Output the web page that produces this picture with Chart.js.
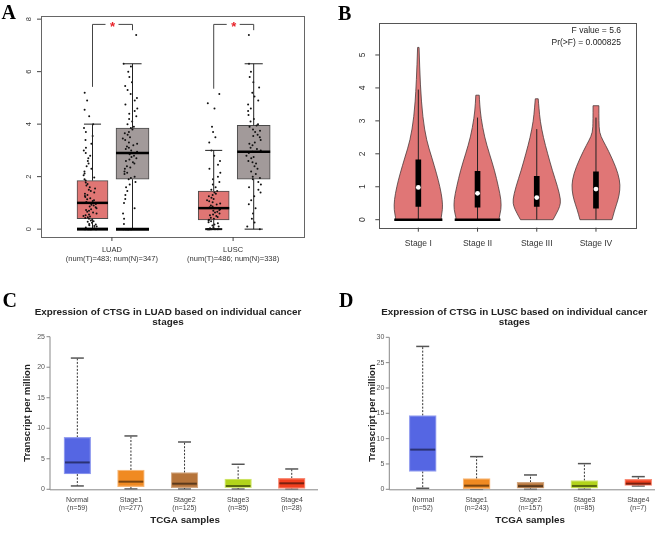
<!DOCTYPE html>
<html>
<head>
<meta charset="utf-8">
<script src="https://cdn.jsdelivr.net/npm/chart.js@4.4.0/dist/chart.umd.min.js"></script>
<style>
  body { margin: 0; background: #fff; }
  #wrap { position: relative; width: 669px; height: 534px; overflow: hidden; }
  canvas { position: absolute; }
</style>
</head>
<body>
<div id="wrap">
  <canvas id="chartA" width="330" height="270" style="left:0;top:0"></canvas>
  <canvas id="chartB" width="339" height="270" style="left:330px;top:0"></canvas>
  <canvas id="chartC" width="335" height="264" style="left:0;top:270px"></canvas>
  <canvas id="chartD" width="334" height="264" style="left:335px;top:270px"></canvas>
</div>
<script>
// ---- panel A : tumour vs normal ----
const aGroups = ['LUAD', 'LUSC'];
const aCounts = ['(num(T)=483; num(N)=347)', '(num(T)=486; num(N)=338)'];
const aTicks = [0, 2, 4, 6, 8];
// min, q1, median, q3, max
const aTumorStats = [[0, 0.4, 1.0, 1.85, 4.0], [0, 0.35, 0.8, 1.45, 3.0]];
const aNormalStats = [[0, 1.9, 2.9, 3.85, 6.3], [0, 1.9, 2.95, 3.95, 6.3]];
const aBracketLeft = [5.42, 5.35];
const aBracketTop = [7.8, 7.8];
const aBracketRight = [7.58, 7.58];
const luadTumorPts = [0,0,0,0,0,0,0,0,0,0,0.03,0.06,0.1,0.12,0.15,0.18,0.2,0.24,0.28,0.3,0.33,0.36,0.4,0.42,0.45,0.48,0.5,0.53,0.56,0.6,0.63,0.66,0.7,0.73,0.76,0.8,0.83,0.86,0.9,0.93,0.96,1.0,1.03,1.07,1.1,1.14,1.18,1.22,1.26,1.3,1.35,1.4,1.45,1.5,1.55,1.6,1.66,1.72,1.78,1.85,1.9,1.97,2.05,2.12,2.2,2.3,2.4,2.5,2.6,2.7,2.8,2.9,3.0,3.1,3.25,3.4,3.55,3.7,3.85,4.0,4.3,4.55,4.9,5.2];
const luadNormalPts = [0,0,0,0,0,0,0,0,0.2,0.4,0.6,0.8,1.0,1.15,1.3,1.45,1.6,1.7,1.8,1.9,1.95,2.0,2.1,2.15,2.2,2.3,2.35,2.4,2.5,2.55,2.6,2.65,2.7,2.75,2.8,2.85,2.9,2.95,3.0,3.05,3.1,3.15,3.2,3.25,3.3,3.4,3.45,3.5,3.6,3.65,3.7,3.8,3.85,3.9,4.0,4.1,4.2,4.3,4.4,4.5,4.6,4.75,4.9,5.0,5.15,5.3,5.45,5.6,5.8,6.0,6.2,6.3,7.4];
const luscTumorPts = [0,0,0,0,0,0,0,0,0,0,0.03,0.06,0.1,0.14,0.18,0.22,0.26,0.3,0.33,0.36,0.4,0.43,0.46,0.5,0.53,0.56,0.6,0.63,0.66,0.7,0.73,0.76,0.8,0.83,0.86,0.9,0.94,0.98,1.02,1.06,1.1,1.15,1.2,1.25,1.3,1.35,1.4,1.45,1.5,1.6,1.7,1.8,1.9,2.0,2.15,2.3,2.45,2.6,2.8,3.0,3.3,3.5,3.7,3.9,4.6,4.8,5.15];
const luscNormalPts = [0,0.1,0.25,0.4,0.6,0.8,0.95,1.1,1.25,1.4,1.5,1.6,1.7,1.8,1.9,1.95,2.0,2.1,2.2,2.3,2.4,2.5,2.55,2.6,2.7,2.75,2.8,2.9,2.95,3.0,3.05,3.1,3.2,3.25,3.3,3.4,3.5,3.55,3.6,3.7,3.75,3.8,3.9,3.95,4.0,4.1,4.2,4.35,4.5,4.6,4.75,4.9,5.05,5.2,5.4,5.6,5.8,6.0,6.3,7.4];

// ---- panel B : violins by stage ----
const bStages = ['Stage I', 'Stage II', 'Stage III', 'Stage IV'];
const bTicks = [0, 1, 2, 3, 4, 5];
const bQ1 = [0.4, 0.38, 0.4, 0.35];
const bMed = [0.98, 0.8, 0.67, 0.93];
const bQ3 = [1.82, 1.47, 1.32, 1.45];
const bWhiskerTop = [3.95, 3.1, 2.75, 3.1];
const bZeroPile = [1, 1, 0, 0];
const bViolinY = [
  [0, 0.05, 0.3, 0.6, 1.0, 1.4, 1.9, 2.4, 3.1, 4.1, 5.23],
  [0, 0.05, 0.3, 0.6, 1.0, 1.5, 2.0, 2.5, 3.1, 3.5, 3.78],
  [0, 0.2, 0.4, 0.6, 1.0, 1.5, 2.0, 2.5, 3.0, 3.4, 3.67],
  [0, 0.3, 0.6, 0.9, 1.2, 1.6, 2.1, 2.4, 2.64, 3.0, 3.46]
];
const bViolinDensity = [
  [0.95, 0.93, 1.0, 0.99, 0.89, 0.75, 0.55, 0.34, 0.18, 0.08, 0.03],
  [0.9, 0.88, 0.97, 0.97, 0.86, 0.7, 0.49, 0.29, 0.14, 0.09, 0.07],
  [0.67, 0.82, 0.95, 0.99, 0.86, 0.64, 0.45, 0.27, 0.14, 0.09, 0.06],
  [0.66, 0.77, 0.91, 0.99, 0.98, 0.82, 0.51, 0.29, 0.14, 0.12, 0.12]
];
const bFValue = 'F value = 5.6';
const bPValue = 'Pr(>F) = 0.000825';

// ---- panels C / D : TCGA stages ----
const stageLabels = ['Normal', 'Stage1', 'Stage2', 'Stage3', 'Stage4'];
const cCounts = ['(n=59)', '(n=277)', '(n=125)', '(n=85)', '(n=28)'];
const cTicks = [0, 5, 10, 15, 20, 25];
const cMin = [0.55, 0.05, 0.03, 0.03, 0.03];
const cQ1 = [2.5, 0.43, 0.27, 0.27, 0.16];
const cMed = [4.4, 1.25, 0.92, 0.54, 0.98];
const cQ3 = [8.5, 3.16, 2.72, 1.69, 1.8];
const cMax = [21.5, 8.74, 7.75, 4.1, 3.33];
const dCounts = ['(n=52)', '(n=243)', '(n=157)', '(n=85)', '(n=7)'];
const dTicks = [0, 5, 10, 15, 20, 25, 30];
const dMin = [0.2, 0, 0, 0, 0.66];
const dQ1 = [3.55, 0.13, 0.2, 0.2, 0.79];
const dMed = [7.83, 0.72, 0.62, 0.66, 1.12];
const dQ3 = [14.54, 2.1, 1.38, 1.71, 1.97];
const dMax = [28.2, 6.45, 2.83, 5.07, 2.5];

const stageFill = ['#5566e3', '#f08a22', '#b6743a', '#b2d41b', '#f2401f'];
const stageEdge = ['#97a1f0', '#f7b777', '#d3a882', '#d3e778', '#f88d78'];
const stageMedian = ['#2b3274', '#7a4510', '#5b3a1d', '#58690d', '#7a200f'];

const SANS = '"Liberation Sans", Arial, sans-serif';
const SERIF = '"Liberation Serif", "Times New Roman", serif';

function seg(ctx, x1, y1, x2, y2, color, width, dash) {
  ctx.save();
  ctx.beginPath();
  ctx.strokeStyle = color;
  ctx.lineWidth = width;
  ctx.setLineDash(dash || []);
  ctx.moveTo(x1, y1);
  ctx.lineTo(x2, y2);
  ctx.stroke();
  ctx.restore();
}

function label(ctx, s, x, y, font, color, align, angle, baseline) {
  ctx.save();
  ctx.translate(x, y);
  if (angle) ctx.rotate(angle);
  ctx.font = font;
  ctx.fillStyle = color;
  ctx.textAlign = align || 'center';
  ctx.textBaseline = baseline || 'middle';
  ctx.fillText(s, 0, 0);
  ctx.restore();
}

// horizontal jitter only (a fixed hash of the point index), values stay as typed
function jitter(vals, center, spread) {
  return vals.map((v, i) => {
    const h = Math.sin((i + 1) * 12.9898) * 43758.5453;
    return { x: center + ((h - Math.floor(h)) - 0.5) * 2 * spread, y: v };
  });
}

const baseOpts = (pad, xr, yr) => ({
  responsive: false,
  animation: false,
  layout: { padding: pad },
  plugins: { legend: { display: false }, tooltip: { enabled: false } },
  scales: {
    x: { type: 'linear', min: xr[0], max: xr[1], display: false, offset: false },
    y: { type: 'linear', min: yr[0], max: yr[1], display: false }
  }
});

// ================= A =================
const TOFF = -0.16, NOFF = 0.17;
const panelA = {
  id: 'panelA',
  afterDatasetsDraw(chart) {
    const { ctx, chartArea: ca, scales: { x, y } } = chart;
    [[aTumorStats, TOFF, 31], [aNormalStats, NOFF, 33]].forEach(([stats, off, w]) => {
      stats.forEach((s, i) => {
        const cx = x.getPixelForValue(i + 1 + off);
        seg(ctx, cx, y.getPixelForValue(s[3]), cx, y.getPixelForValue(s[4]), '#222', 1);
        seg(ctx, cx, y.getPixelForValue(s[1]), cx, y.getPixelForValue(s[0]), '#222', 1);
        const cap = w * 0.55;
        seg(ctx, cx - cap / 2, y.getPixelForValue(s[4]), cx + cap / 2, y.getPixelForValue(s[4]), '#222', 1);
        // lower cap: LUAD has a heavy pile of zeros
        if (i === 0) seg(ctx, cx - w / 2, y.getPixelForValue(s[0]), cx + w / 2, y.getPixelForValue(s[0]), '#000', 3);
        else seg(ctx, cx - cap / 2, y.getPixelForValue(s[0]), cx + cap / 2, y.getPixelForValue(s[0]), '#111', off < 0 ? 2 : 1);
        seg(ctx, cx - w / 2, y.getPixelForValue(s[2]), cx + w / 2, y.getPixelForValue(s[2]), '#000', 2.5);
      });
    });
    // significance brackets
    aGroups.forEach((g, i) => {
      const xl = x.getPixelForValue(i + 1 + TOFF), xr = x.getPixelForValue(i + 1 + NOFF);
      const yt = y.getPixelForValue(aBracketTop[i]);
      const xm = (xl + xr) / 2;
      seg(ctx, xl, y.getPixelForValue(aBracketLeft[i]), xl, yt, '#444', 1);
      seg(ctx, xl, yt, xm - 7, yt, '#444', 1);
      seg(ctx, xm + 6, yt, xr, yt, '#444', 1);
      seg(ctx, xr, yt, xr, y.getPixelForValue(aBracketRight[i]), '#444', 1);
      label(ctx, '*', xm, yt + 3, 'bold 13px ' + SANS, '#e8232a');
    });
    // frame and axes
    ctx.save();
    ctx.strokeStyle = '#666';
    ctx.lineWidth = 1;
    ctx.strokeRect(Math.round(ca.left) + 0.5, Math.round(ca.top) + 0.5, Math.round(ca.width), Math.round(ca.height));
    ctx.restore();
    aTicks.forEach(t => {
      const py = y.getPixelForValue(t);
      seg(ctx, ca.left - 4, py, ca.left, py, '#444', 1);
      label(ctx, String(t), ca.left - 12, py, '7.5px ' + SANS, '#333', 'center', -Math.PI / 2);
    });
    aGroups.forEach((g, i) => {
      const px = x.getPixelForValue(i + 1);
      seg(ctx, px, ca.bottom, px, ca.bottom + 4, '#444', 1);
      label(ctx, g, px, ca.bottom + 13, '7.5px ' + SANS, '#333');
      label(ctx, aCounts[i], px, ca.bottom + 21.5, '7.5px ' + SANS, '#333');
    });
    label(ctx, 'A', 1.5, 19.3, 'bold 20px ' + SERIF, '#000', 'left', 0, 'alphabetic');
  }
};

const ptStyle = { type: 'scatter', pointRadius: 1, pointBackgroundColor: '#111', backgroundColor: '#111', pointBorderWidth: 0, borderWidth: 0, order: 0 };
new Chart(document.getElementById('chartA'), {
  type: 'bar',
  data: {
    datasets: [
      Object.assign({ data: jitter(luadTumorPts, 1 + TOFF - 0.02, 0.055) }, ptStyle),
      Object.assign({ data: jitter(luadNormalPts.slice().reverse(), 1 + NOFF - 0.02, 0.06) }, ptStyle),
      Object.assign({ data: jitter(luscTumorPts.slice().reverse(), 2 + TOFF, 0.055) }, ptStyle),
      Object.assign({ data: jitter(luscNormalPts, 2 + NOFF, 0.06) }, ptStyle),
      {
        data: aTumorStats.map((s, i) => ({ x: i + 1 + TOFF, y: [s[1], s[3]] })),
        backgroundColor: '#e07674', borderColor: '#4a4a4a', borderWidth: 1, borderSkipped: false,
        barThickness: 31, grouped: false, order: 2
      },
      {
        data: aNormalStats.map((s, i) => ({ x: i + 1 + NOFF, y: [s[1], s[3]] })),
        backgroundColor: '#a29a9a', borderColor: '#4a4a4a', borderWidth: 1, borderSkipped: false,
        barThickness: 33, grouped: false, order: 2
      }
    ]
  },
  options: baseOpts({ left: 41, right: 26, top: 16, bottom: 33 }, [0.415, 2.585], [-0.3, 8.12]),
  plugins: [panelA]
});

// ================= B =================
const VIOLIN_HALF = 0.41;
function smoothSide(ctx, pts) {
  for (let k = 1; k < pts.length - 1; k++) {
    const mx = (pts[k][0] + pts[k + 1][0]) / 2, my = (pts[k][1] + pts[k + 1][1]) / 2;
    ctx.quadraticCurveTo(pts[k][0], pts[k][1], mx, my);
  }
  const last = pts[pts.length - 1];
  ctx.lineTo(last[0], last[1]);
}
const panelB = {
  id: 'panelB',
  beforeDatasetsDraw(chart) {
    const { ctx, scales: { x, y } } = chart;
    const hw = x.getPixelForValue(1 + VIOLIN_HALF) - x.getPixelForValue(1);
    bViolinY.forEach((ys, i) => {
      const cx = x.getPixelForValue(i + 1);
      const dens = bViolinDensity[i];
      const right = ys.map((v, k) => [cx + dens[k] * hw, y.getPixelForValue(v)]);
      const left = ys.map((v, k) => [cx - dens[k] * hw, y.getPixelForValue(v)]).reverse();
      ctx.save();
      ctx.beginPath();
      ctx.moveTo(right[0][0], right[0][1]);
      smoothSide(ctx, right);
      ctx.lineTo(left[0][0], left[0][1]);
      smoothSide(ctx, left);
      ctx.closePath();
      ctx.fillStyle = '#e07676';
      ctx.fill();
      ctx.strokeStyle = '#4a3a3a';
      ctx.lineWidth = 0.8;
      ctx.stroke();
      ctx.restore();
      seg(ctx, cx, y.getPixelForValue(0), cx, y.getPixelForValue(bWhiskerTop[i]), '#222', 1);
      if (bZeroPile[i]) {
        const y0 = y.getPixelForValue(0);
        seg(ctx, cx - dens[0] * hw - 1, y0, cx + dens[0] * hw + 1, y0, '#000', 2.5);
      }
    });
  },
  afterDatasetsDraw(chart) {
    const { ctx, chartArea: ca, scales: { x, y } } = chart;
    ctx.save();
    ctx.strokeStyle = '#555';
    ctx.lineWidth = 1;
    ctx.strokeRect(Math.round(ca.left) + 0.5, Math.round(ca.top) + 0.5, Math.round(ca.width), Math.round(ca.height));
    ctx.restore();
    bTicks.forEach(t => {
      const py = y.getPixelForValue(t);
      seg(ctx, ca.left - 4, py, ca.left, py, '#444', 1);
      label(ctx, String(t), ca.left - 17, py, '8.5px ' + SANS, '#333', 'center', -Math.PI / 2);
    });
    bStages.forEach((s, i) => {
      const px = x.getPixelForValue(i + 1);
      seg(ctx, px, ca.bottom, px, ca.bottom + 4, '#444', 1);
      label(ctx, s, px, ca.bottom + 15.5, '8.5px ' + SANS, '#333');
    });
    label(ctx, bFValue, ca.right - 15, 31, '8.5px ' + SANS, '#222', 'right');
    label(ctx, bPValue, ca.right - 15, 42.3, '8.5px ' + SANS, '#222', 'right');
    label(ctx, 'B', 8, 20, 'bold 20px ' + SERIF, '#000', 'left', 0, 'alphabetic');
  }
};

new Chart(document.getElementById('chartB'), {
  type: 'bar',
  data: {
    datasets: [
      {
        type: 'scatter', data: bMed.map((m, i) => ({ x: i + 1, y: m })),
        pointRadius: 2.4, pointBackgroundColor: '#fff', backgroundColor: '#fff', pointBorderWidth: 0, borderWidth: 0, order: 0
      },
      {
        data: bQ1.map((q, i) => ({ x: i + 1, y: [q, bQ3[i]] })),
        backgroundColor: '#000', borderWidth: 0, barThickness: 5, grouped: false, order: 1
      }
    ]
  },
  options: baseOpts({ left: 49.3, right: 33, top: 22.7, bottom: 42.3 }, [0.341, 4.676], [-0.243, 5.98]),
  plugins: [panelB]
});

// ================= C & D =================
function stagePanel(letter, title, counts, ticks, mins, q1s, meds, q3s, maxs, geo) {
  return {
    id: 'stage' + letter,
    beforeDatasetsDraw(chart) {
      const { ctx, scales: { x, y } } = chart;
      stageLabels.forEach((s, i) => {
        const cx = x.getPixelForValue(i + 1);
        seg(ctx, cx, y.getPixelForValue(q3s[i]), cx, y.getPixelForValue(maxs[i]), '#333', 1, [2, 1.5]);
        seg(ctx, cx, y.getPixelForValue(q1s[i]), cx, y.getPixelForValue(mins[i]), '#333', 1, [2, 1.5]);
        seg(ctx, cx - 6.5, y.getPixelForValue(maxs[i]), cx + 6.5, y.getPixelForValue(maxs[i]), '#555', 1.5);
        seg(ctx, cx - 6.5, y.getPixelForValue(mins[i]), cx + 6.5, y.getPixelForValue(mins[i]), '#555', 1.5);
      });
    },
    afterDatasetsDraw(chart) {
      const { ctx, chartArea: ca, scales: { x, y } } = chart;
      stageLabels.forEach((s, i) => {
        const cx = x.getPixelForValue(i + 1);
        const my = y.getPixelForValue(meds[i]);
        seg(ctx, cx - geo.box / 2 + 1, my, cx + geo.box / 2 - 1, my, stageMedian[i], 2);
        label(ctx, s, cx, ca.bottom + 10.7, '7px ' + SANS, '#444');
        label(ctx, counts[i], cx, ca.bottom + 19, '7px ' + SANS, '#444');
      });
      const top = y.getPixelForValue(ticks[ticks.length - 1]);
      seg(ctx, ca.left, top, ca.left, ca.bottom + 0.5, '#888', 1);
      seg(ctx, ca.left, ca.bottom + 0.5, ca.right, ca.bottom + 0.5, '#888', 1);
      ticks.forEach(t => {
        const py = y.getPixelForValue(t);
        seg(ctx, ca.left - 3.5, py, ca.left, py, '#888', 1);
        label(ctx, String(t), ca.left - 5, py, '7px ' + SANS, '#555', 'right');
      });
      label(ctx, title[0], geo.titleX, 44.5, 'bold 9.9px ' + SANS, '#222', 'center', 0, 'alphabetic');
      label(ctx, title[1], geo.titleX, 55, 'bold 9.9px ' + SANS, '#222', 'center', 0, 'alphabetic');
      label(ctx, 'Transcript per million', geo.yTitleX, 143, 'bold 9.6px ' + SANS, '#222', 'center', -Math.PI / 2);
      label(ctx, 'TCGA samples', geo.xTitleX, 250.7, 'bold 9.8px ' + SANS, '#222');
      label(ctx, letter, geo.letterX, 36.5, 'bold 20px ' + SERIF, '#000', 'left', 0, 'alphabetic');
    }
  };
}

function stageChart(id, plugin, q1s, q3s, box, pad, xr, yr) {
  new Chart(document.getElementById(id), {
    type: 'bar',
    data: {
      datasets: [{
        data: q1s.map((q, i) => ({ x: i + 1, y: [q, q3s[i]] })),
        backgroundColor: stageFill, borderColor: stageEdge, borderWidth: 1.2, borderSkipped: false,
        barThickness: box, grouped: false
      }]
    },
    options: baseOpts(pad, xr, yr),
    plugins: [plugin]
  });
}

stageChart('chartC',
  stagePanel('C', ['Expression of CTSG in LUAD based on individual cancer', 'stages'], cCounts, cTicks,
    cMin, cQ1, cMed, cQ3, cMax, { box: 26.7, titleX: 168, yTitleX: 27, xTitleX: 185, letterX: 2.5 }),
  cQ1, cQ3, 26.7, { left: 50, right: 17, top: 66.7, bottom: 44.7 }, [0.49, 5.49], [0, 25]);

stageChart('chartD',
  stagePanel('D', ['Expression of CTSG in LUSC based on individual cancer', 'stages'], dCounts, dTicks,
    dMin, dQ1, dMed, dQ3, dMax, { box: 27, titleX: 179.3, yTitleX: 37.6, xTitleX: 195, letterX: 4 }),
  dQ1, dQ3, 27, { left: 54.3, right: 14, top: 67.3, bottom: 44.7 }, [0.38, 5.31], [0, 30]);
</script>
</body>
</html>
